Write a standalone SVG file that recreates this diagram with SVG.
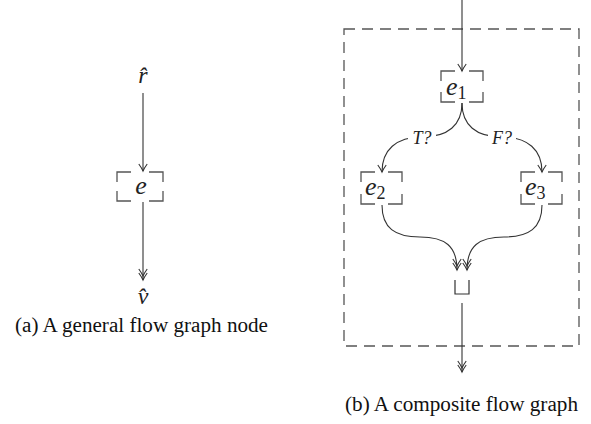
<svg xmlns="http://www.w3.org/2000/svg" width="591" height="424" viewBox="0 0 591 424">
<style>
.ln{fill:none;stroke:#333;stroke-width:1.1}
.bx{fill:none;stroke:#555;stroke-width:1.3}
.m{font-family:"Liberation Serif","DejaVu Serif",serif;font-style:italic;fill:#222}
.cap{font-family:"Liberation Serif","DejaVu Serif",serif;font-size:20.5px;fill:#111}
.sub{font-family:"Liberation Serif","DejaVu Serif",serif;font-style:normal;fill:#222}
</style>
<defs>
<marker id="a1" markerUnits="userSpaceOnUse" markerWidth="14" markerHeight="14" viewBox="-10 -7 14 14" refX="0" refY="0" orient="auto">
<path d="M-7,-4.2 Q-2.5,-1 0,0 Q-2.5,1 -7,4.2" fill="none" stroke="#333" stroke-width="1.1"/>
</marker>
<marker id="a2" markerUnits="userSpaceOnUse" markerWidth="18" markerHeight="14" viewBox="-14 -7 18 14" refX="0" refY="0" orient="auto">
<path d="M-7,-4.2 Q-2.5,-1 0,0 Q-2.5,1 -7,4.2 M-11,-4.2 Q-6.5,-1 -4,0 Q-6.5,1 -11,4.2" fill="none" stroke="#333" stroke-width="1.1"/>
</marker>
</defs>

<!-- left figure -->
<g id="r-hat"><text class="m" x="143" y="83" font-size="24" text-anchor="middle">r̂</text></g>
<g id="node-e">
<path class="bx" d="M117,182 V172 H131 M149,172 H163 V182 M163,191 V201 H149 M131,201 H117 V191"/>
<text class="m" x="141" y="194" font-size="26" text-anchor="middle">e</text>
</g>
<g id="v-hat"><text class="m" x="143" y="304" font-size="24" text-anchor="middle">v̂</text></g>

<!-- right figure -->
<g id="composite">
<rect x="344" y="29" width="235" height="317" fill="none" stroke="#555" stroke-width="1.3" stroke-dasharray="11,7"/>
</g>
<g id="node-e1">
<path class="bx" d="M441,81 V71 H455 M469,71 H483 V81 M483,92 V102 H469 M455,102 H441 V92"/>
<text class="m" x="446" y="95" font-size="26">e<tspan class="sub" font-size="18" dy="4">1</tspan></text>
</g>
<g id="node-e2">
<path class="bx" d="M361,182 V172 H375 M388,172 H402 V182 M402,194 V204 H388 M375,204 H361 V194"/>
<text class="m" x="365" y="195" font-size="26">e<tspan class="sub" font-size="18" dy="4">2</tspan></text>
</g>
<g id="node-e3">
<path class="bx" d="M521,182 V172 H535 M548,172 H562 V182 M562,194 V204 H548 M535,204 H521 V194"/>
<text class="m" x="525" y="195" font-size="26">e<tspan class="sub" font-size="18" dy="4">3</tspan></text>
</g>
<g id="node-join">
<path d="M455,280 V294 H469 V280" fill="none" stroke="#333" stroke-width="1.2"/>
</g>

<g id="connectors">
<path class="ln" d="M143,93 V171" marker-end="url(#a1)"/>
<path class="ln" d="M143,202 V280" marker-end="url(#a2)"/>
<path class="ln" d="M462,0 V71" marker-end="url(#a1)"/>
<path class="ln" d="M462,103 C462,125 448,137 422,137 C396,137 382,150 382,172" marker-end="url(#a1)"/>
<path class="ln" d="M462,103 C462,125 476,137 502,137 C528,137 542,150 542,172" marker-end="url(#a1)"/>
<path class="ln" d="M382,205 C382,228 395,237 420,237 C445,237 457,246 457,270" marker-end="url(#a2)"/>
<path class="ln" d="M542,205 C542,228 529,237 504,237 C479,237 467,246 467,270" marker-end="url(#a2)"/>
<path class="ln" d="M462,303 V372" marker-end="url(#a2)"/>
<rect x="408" y="127" width="28" height="19" fill="#fff"/>
<text class="m" x="422" y="143.5" font-size="18" text-anchor="middle">T?</text>
<rect x="488" y="127" width="28" height="19" fill="#fff"/>
<text class="m" x="502" y="143.5" font-size="18" text-anchor="middle">F?</text>
</g>

<text class="cap" x="15" y="332" textLength="253" lengthAdjust="spacingAndGlyphs">(a) A general flow graph node</text>
<text class="cap" x="345" y="411" textLength="233" lengthAdjust="spacingAndGlyphs">(b) A composite flow graph</text>
</svg>
